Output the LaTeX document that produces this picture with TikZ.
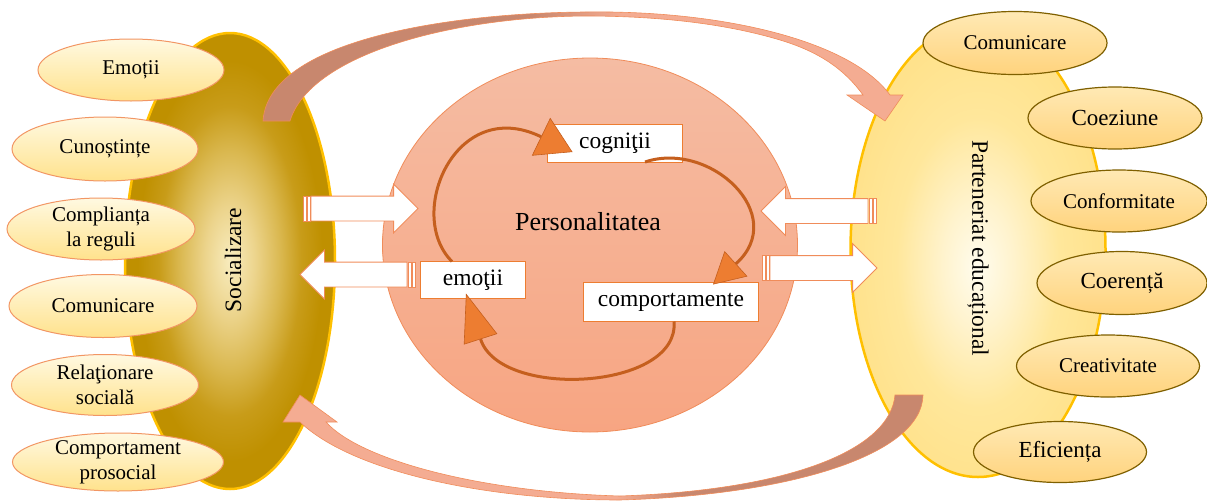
\documentclass[tikz,border=0pt]{standalone}
\usepackage{fontspec}
\setmainfont{Liberation Serif}
\usepackage{tikz}
\usetikzlibrary{arrows.meta, shapes.geometric, shapes.arrows}

\definecolor{socIn}{RGB}{248,236,190}
\definecolor{socMid}{RGB}{236,212,140}
\definecolor{socDeep}{RGB}{218,184,80}
\definecolor{socDark}{RGB}{200,156,25}
\definecolor{socOut}{RGB}{191,144,0}
\definecolor{socRim}{RGB}{255,192,0}
\definecolor{partIn}{RGB}{255,252,238}
\definecolor{partMid}{RGB}{255,243,205}
\definecolor{partDeep}{RGB}{255,231,155}
\definecolor{partOut}{RGB}{255,226,140}
\definecolor{leafTop}{RGB}{255,249,225}
\definecolor{leafBot}{RGB}{255,226,140}
\definecolor{leafLine}{RGB}{242,150,100}
\definecolor{rleafTop}{RGB}{255,233,180}
\definecolor{rleafBot}{RGB}{255,211,125}
\definecolor{rleafLine}{RGB}{127,96,0}
\definecolor{persTop}{RGB}{245,188,163}
\definecolor{persBot}{RGB}{247,165,130}
\definecolor{persLine}{RGB}{240,140,90}
\definecolor{bandDark}{RGB}{200,135,110}
\definecolor{bandLight}{RGB}{244,172,146}
\definecolor{cycLine}{RGB}{197,95,30}
\definecolor{cycFill}{RGB}{237,125,49}
\definecolor{boxLine}{RGB}{237,125,49}

\pgfdeclareradialshading{socshade}{\pgfpoint{0bp}{0bp}}{color(0bp)=(socIn);
   color(6bp)=(socMid); color(12bp)=(socDeep); color(17bp)=(socDark);
   color(22bp)=(socOut); color(50bp)=(socOut)}
\pgfdeclareradialshading{partshade}{\pgfpoint{0bp}{-2bp}}{color(0bp)=(partIn);
   color(7bp)=(partMid); color(16bp)=(partDeep); color(25bp)=(partOut);
   color(50bp)=(partOut)}
\pgfdeclarehorizontalshading{topband}{100bp}{color(0bp)=(bandDark);
   color(46bp)=(bandDark); color(53bp)=(bandLight); color(100bp)=(bandLight)}
\pgfdeclarehorizontalshading{botband}{100bp}{color(0bp)=(bandLight);
   color(51bp)=(bandLight); color(56bp)=(bandDark); color(100bp)=(bandDark)}

\begin{document}
\begin{tikzpicture}[x=1pt, y=-1pt, every node/.style={inner sep=0pt, outer sep=0pt},
   bigell/.style={ellipse, draw=socRim, line width=2.5pt},
   lleaf/.style={ellipse, draw=leafLine, line width=1pt, top color=leafTop,
      bottom color=leafBot, align=center, font=\fontsize{21}{25}\selectfont},
   rleaf/.style={ellipse, draw=rleafLine, line width=1.2pt, top color=rleafTop,
      bottom color=rleafBot, font=\fontsize{21}{25}\selectfont},
   twoline/.style={inner ysep=-5pt},
   bigtext/.style={font=\fontsize{23.5}{28}\selectfont},
   pbox/.style={rectangle, draw=boxLine, fill=white, line width=0.8pt,
      font=\fontsize{23.5}{28}\selectfont},
   cyc/.style={draw=cycLine, line width=3pt},
   blockarrow/.style={single arrow, draw=persLine, fill=white, line width=0.8pt,
      minimum height=107pt, inner ysep=12pt, single arrow head extend=12pt,
      anchor=tail},
   stripe/.style={draw=persLine, fill=white, line width=0.8pt},
   band/.style={draw=persLine, line width=0.6pt}]
   \useasboundingbox (0,0) rectangle (1207,501);

   % the two big ellipses and the centre
   \node[bigell, shade, shading=partshade, minimum width=255pt,
      minimum height=454pt] (part) at (978,250) {};
   \node[bigell, shade, shading=socshade, minimum width=210pt,
      minimum height=456pt] (soc) at (230,261) {};
   \node[ellipse, draw=persLine, line width=0.8pt, top color=persTop,
      bottom color=persBot, minimum width=415pt, minimum height=374pt] (pers)
      at (590,245) {};

   % curved arrows round the centre
   \path[band, shade, shading=topband] (263,121) .. controls (268,40) and
   (450,13) .. (585,12) .. controls (720,10) and (850,40) .. (890,95) --
   (903,95) -- (885,121) -- (847,95) -- (863,95) .. controls (845,70) and
   (820,52) .. (780,40) .. controls (720,22) and (650,16) .. (585,16) ..
   controls (450,17) and (310,55) .. (290,121) -- cycle;
   \path[band, shade, shading=botband] (895,395) -- (923,395) .. controls
   (922,455) and (790,495) .. (620,500) .. controls (480,500) and (350,470) ..
   (300,422) -- (283,422) -- (300,395) -- (337,422) -- (326,422) .. controls
   (360,460) and (480,492) .. (620,496) .. controls (790,490) and (890,450) ..
   (895,395) -- cycle;

   % left side
   \node[lleaf, minimum width=186pt, minimum height=62pt] (emotii) at (131,70)
   {Emoții};
   \node[lleaf, minimum width=186pt, minimum height=64pt] (cunost) at (105,149)
   {Cunoștințe};
   \node[lleaf, twoline, minimum width=188pt, minimum height=62pt] (compl)
   at (101,229) {Complianța\\la reguli};
   \node[lleaf, minimum width=188pt, minimum height=63pt] (comunL) at (103,306)
   {Comunicare};
   \node[lleaf, twoline, minimum width=187pt, minimum height=61pt] (relat)
   at (105,385) {Relaţionare\\socială};
   \node[lleaf, twoline, minimum width=211pt, minimum height=58pt] (prosoc)
   at (118,462) {Comportament\\prosocial};
   \node[bigtext, rotate=90] (socT) at (233,260) {Socializare};

   % right side
   \node[rleaf, minimum width=184pt, minimum height=63pt] (comunR) at (1015,43)
   {Comunicare};
   \node[rleaf, minimum width=174pt, minimum height=62pt,
      font=\fontsize{23}{27}\selectfont] (coez) at (1115,118) {Coeziune};
   \node[rleaf, minimum width=176pt, minimum height=62pt] (conf) at (1119,201)
   {Conformitate};
   \node[rleaf, minimum width=170pt, minimum height=63pt,
      font=\fontsize{23}{27}\selectfont] (coer) at (1122,283) {Coerență};
   \node[rleaf, minimum width=183pt, minimum height=62pt] (creat) at (1108,366)
   {Creativitate};
   \node[rleaf, minimum width=173pt, minimum height=61pt,
      font=\fontsize{23}{27}\selectfont] (efic) at (1060,452) {Eficiența};
   \node[bigtext, rotate=-90] (partT) at (978,248) {Parteneriat educațional};

   % striped block arrows
   \node[blockarrow] (toPers) at (311,208.5) {};
   \node[blockarrow, shape border rotate=180] (toSoc) at (407,274.5) {};
   \node[blockarrow, shape border rotate=180] (toPersR) at (868,211) {};
   \node[blockarrow] (toPart) at (770,268) {};
   \draw[stripe] ([xshift=-8pt]toPers.before tail) rectangle
   ([xshift=-5pt]toPers.after tail);
   \draw[stripe] ([xshift=-4pt]toPers.before tail) rectangle
   ([xshift=-1pt]toPers.after tail);
   \draw[stripe] ([xshift=1pt]toSoc.before tail) rectangle
   ([xshift=4pt]toSoc.after tail);
   \draw[stripe] ([xshift=5pt]toSoc.before tail) rectangle
   ([xshift=8pt]toSoc.after tail);
   \draw[stripe] ([xshift=1pt]toPersR.before tail) rectangle
   ([xshift=4pt]toPersR.after tail);
   \draw[stripe] ([xshift=5pt]toPersR.before tail) rectangle
   ([xshift=8pt]toPersR.after tail);
   \draw[stripe] ([xshift=-8pt]toPart.before tail) rectangle
   ([xshift=-5pt]toPart.after tail);
   \draw[stripe] ([xshift=-4pt]toPart.before tail) rectangle
   ([xshift=-1pt]toPart.after tail);

   % the cycle inside
   \node[font=\fontsize{26}{30}\selectfont] (persT) at (588,222)
   {Personalitatea};
   \node[pbox, minimum width=135pt, minimum height=38pt] (cog) at (615,143)
   {cogniţii};
   \node[pbox, minimum width=105pt, minimum height=37pt] (emo) at (473,280)
   {emoţii};
   \node[pbox, minimum width=175pt, minimum height=39pt] (cpt) at (671,302)
   {comportamente};

   \draw[cyc, -{Triangle[length=35pt, width=42pt, fill=cycFill,
      line width=0.6pt]}] ([xshift=-21pt]emo.north) .. controls (405,215) and
   (455,95) .. ([xshift=25pt, yshift=-9pt]cog.west);
   \draw[cyc, -{Triangle[length=31pt, width=34pt, fill=cycFill,
      line width=0.6pt]}] ([xshift=30pt]cog.south) .. controls (710,140) and
   (790,215) .. ([xshift=42pt, yshift=-2pt]cpt.north);
   \draw[cyc, -{Triangle[length=48pt, width=35pt, fill=cycFill,
      line width=0.6pt]}] ([xshift=3pt]cpt.south) .. controls (680,390) and
   (500,400) .. ([xshift=-7pt, yshift=5pt]emo.south);

\end{tikzpicture}
\end{document}
